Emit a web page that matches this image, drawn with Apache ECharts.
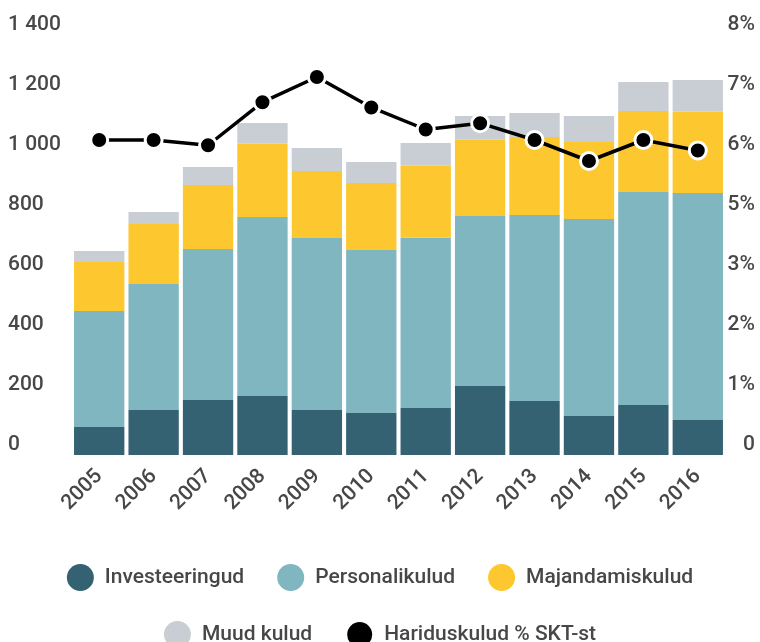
<!DOCTYPE html>
<html>
<head>
<meta charset="utf-8">
<script src="https://cdn.jsdelivr.net/npm/echarts@6/dist/echarts.min.js"></script>
<style>
html,body{margin:0;padding:0;background:#fff;}
#chart{width:760px;height:642px;}
</style>
</head>
<body>
<div id="chart"></div>
<script>
const years = ['2005','2006','2007','2008','2009','2010','2011','2012','2013','2014','2015','2016'];
const investeeringud = [93, 150, 183, 197, 150, 140, 158, 230, 180, 130, 167, 117];
const personalikulud = [387, 420, 504, 596, 573, 543, 566, 567, 620, 657, 710, 756];
const majandamiskulud = [163, 200, 213, 245, 224, 224, 240, 254, 260, 256, 270, 272];
const muudKulud = [37, 40, 60, 69, 76, 70, 76, 79, 80, 87, 96, 105];
const hariduskuludPct = [6.0, 6.0, 5.9, 6.72, 7.2, 6.62, 6.2, 6.32, 6.0, 5.6, 6.0, 5.8];
const leftTicks = {min: 0, max: 1400, interval: 200};
const rightTicks = {min: 0, max: 8, interval: 8 / 7};

const names = ['Investeeringud', 'Personalikulud', 'Majandamiskulud', 'Muud kulud', 'Hariduskulud % SKT-st'];
const colors = ['#346273', '#7fb6bf', '#fdc72f', '#c9cdd4', '#000000'];
const textColor = '#474747';
const font = 'Roboto';
const fw = 500;

const chart = echarts.init(document.getElementById('chart'), null, {renderer: 'canvas'});

function barSeries(name, data, color) {
  return {
    name: name, type: 'bar', stack: 'total', data: data,
    barCategoryGap: '7.5%',
    itemStyle: {color: color},
    emphasis: {disabled: true}
  };
}

const legendCommon = {
  icon: 'circle', itemWidth: 27, itemHeight: 27, itemGap: 33,
  left: 'center', padding: [0, 10, 0, 0],
  textStyle: {fontFamily: font, fontWeight: fw, fontSize: 21, color: textColor, padding: [0, 0, 0, 6]},
  selectedMode: false
};

chart.setOption({
  animation: false,
  color: colors,
  grid: {left: 72, right: 35, top: 35, bottom: 187},
  legend: [
    Object.assign({}, legendCommon, {top: 564, data: names.slice(0, 3)}),
    Object.assign({}, legendCommon, {top: 620, data: names.slice(3)})
  ],
  xAxis: {
    type: 'category', data: years,
    axisLine: {show: false}, axisTick: {show: false},
    axisLabel: {rotate: 45, fontFamily: font, fontWeight: fw, fontSize: 21, color: textColor, margin: 18, interval: 0}
  },
  yAxis: [
    {
      type: 'value', min: leftTicks.min, max: leftTicks.max, interval: leftTicks.interval,
      splitLine: {show: false}, axisLine: {show: false}, axisTick: {show: false},
      axisLabel: {
        fontFamily: font, fontWeight: fw, fontSize: 21, color: textColor, align: 'left', margin: 64,
        verticalAlign: 'bottom',
        formatter: v => String(Math.round(v)).replace(/\B(?=(\d{3})+(?!\d))/g, ' ')
      }
    },
    {
      type: 'value', min: rightTicks.min, max: rightTicks.max, interval: rightTicks.interval,
      splitLine: {show: false}, axisLine: {show: false}, axisTick: {show: false},
      axisLabel: {
        fontFamily: font, fontWeight: fw, fontSize: 21, color: textColor, align: 'right', margin: 30,
        verticalAlign: 'bottom',
        formatter: v => { const r = Math.round(v); return r === 0 ? '0' : r + '%'; }
      }
    }
  ],
  series: [
    barSeries(names[0], investeeringud, colors[0]),
    barSeries(names[1], personalikulud, colors[1]),
    barSeries(names[2], majandamiskulud, colors[2]),
    barSeries(names[3], muudKulud, colors[3]),
    {
      name: names[4], type: 'line', yAxisIndex: 1, data: hariduskuludPct,
      symbol: 'circle', symbolSize: 17, z: 10,
      lineStyle: {color: '#000', width: 3.5},
      itemStyle: {color: '#000', borderColor: '#fff', borderWidth: 3},
      emphasis: {disabled: true}
    }
  ]
});
</script>
</body>
</html>
